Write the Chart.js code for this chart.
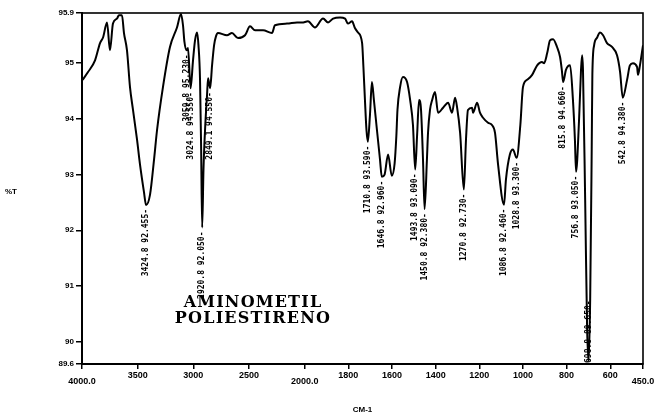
<!DOCTYPE html>
<html>
<head>
<meta charset="utf-8">
<script src="https://cdn.jsdelivr.net/npm/chart.js@4.4.1/dist/chart.umd.min.js"></script>
<style>
  html, body { margin: 0; padding: 0; background: #fff; }
  #wrap { width: 654px; height: 417px; }
</style>
</head>
<body>
<div id="wrap"><canvas id="c" width="654" height="417"></canvas></div>
<script>
// IR spectrum, wavenumber (cm-1) against transmittance (%T)
const wavenumbers = [
  3995, 3946, 3883, 3838, 3811, 3775, 3749, 3722, 3686, 3668, 3641, 3623, 3596, 3569, 3542,
  3506, 3479, 3443, 3424.8, 3389, 3353, 3326, 3273, 3210, 3147, 3111, 3093, 3080, 3059.8, 3048,
  3024.8, 3003, 2985, 2967, 2954, 2940, 2930, 2920.8, 2909, 2895, 2877, 2868, 2849.1, 2832, 2814,
  2797, 2779, 2698, 2653, 2599, 2536, 2491, 2446, 2374, 2294, 2267, 2159, 2069, 2024, 1985,
  1953, 1916, 1893, 1870, 1838, 1815, 1802, 1783, 1770, 1756, 1737, 1731, 1724, 1717, 1710.8,
  1701, 1692, 1683, 1669, 1655, 1646.8, 1634, 1618, 1601, 1588, 1580, 1575, 1563, 1550, 1531,
  1517, 1504, 1493.8, 1485, 1476, 1467, 1458, 1450.8, 1440, 1435, 1426, 1416, 1403, 1389, 1366,
  1343, 1325, 1311, 1302, 1288, 1270.8, 1261, 1252, 1233, 1229, 1210, 1197, 1183, 1160, 1142,
  1128, 1114, 1086.8, 1078, 1060, 1046, 1028.8, 1012, 1000, 981, 958, 935, 913, 903, 889,
  876, 862, 844, 830, 822, 815.8, 803, 784, 771, 762, 756.8, 743, 734, 729, 725,
  715, 706, 698.8, 692, 685, 682, 674, 660, 647, 633, 615, 592, 569, 555, 542.8,
  523, 510, 496, 477, 473, 464, 450
];
const transmittance = [
  94.70, 94.84, 95.05, 95.36, 95.46, 95.73, 95.23, 95.71, 95.80, 95.86, 95.86, 95.54, 95.23, 94.57, 94.16,
  93.63, 93.18, 92.68, 92.455, 92.64, 93.27, 93.80, 94.57, 95.29, 95.64, 95.88, 95.68, 95.38, 95.23, 95.27,
  94.55, 95.05, 95.41, 95.55, 95.32, 94.70, 93.45, 92.05, 93.09, 93.80, 94.43, 94.73, 94.55, 94.96, 95.32,
  95.48, 95.54, 95.50, 95.54, 95.45, 95.50, 95.66, 95.59, 95.59, 95.54, 95.68, 95.71, 95.73, 95.73, 95.75,
  95.64, 95.80, 95.73, 95.80, 95.82, 95.80, 95.71, 95.75, 95.63, 95.55, 95.36, 94.93, 94.34, 93.80, 93.59,
  94.07, 94.66, 94.34, 93.80, 93.27, 92.96, 93.00, 93.36, 92.98, 93.20, 93.70, 94.16, 94.57, 94.75, 94.66,
  94.34, 93.89, 93.09, 93.71, 94.34, 94.16, 93.27, 92.38, 93.27, 93.75, 94.16, 94.34, 94.48, 94.11, 94.20,
  94.29, 94.11, 94.38, 94.21, 93.75, 92.73, 93.63, 94.16, 94.20, 94.11, 94.29, 94.11, 94.02, 93.93, 93.89,
  93.75, 93.18, 92.46, 92.91, 93.36, 93.45, 93.30, 93.89, 94.57, 94.70, 94.79, 94.96, 95.02, 95.00, 95.18,
  95.41, 95.43, 95.29, 95.11, 94.88, 94.66, 94.88, 94.96, 94.34, 93.63, 93.05, 93.98, 94.88, 95.14, 94.88,
  92.55, 90.23, 89.65, 90.77, 93.45, 94.80, 95.32, 95.46, 95.55, 95.50, 95.36, 95.29, 95.14, 94.84, 94.38,
  94.70, 94.96, 95.00, 94.93, 94.79, 94.96, 95.32
];

// bands printed by the peak picker
const peakWavenumbers = [3424.8, 3059.8, 3024.8, 2920.8, 2849.1, 1710.8, 1646.8, 1493.8,
  1450.8, 1270.8, 1086.8, 1028.8, 815.8, 756.8, 698.8, 542.8];

const xTickValues = [4000, 3500, 3000, 2500, 2000, 1800, 1600, 1400, 1200, 1000, 800, 600, 450];
const xTickLabels = ['4000.0', '3500', '3000', '2500', '2000.0', '1800', '1600', '1400', '1200', '1000', '800', '600', '450.0'];
const yTickValues = [89.6, 90, 91, 92, 93, 94, 95, 95.9];
const yTickLabels = ['89.6', '90', '91', '92', '93', '94', '95', '95.9'];
const titleLines = ['AMINOMETIL', 'POLIESTIRENO'];
const xTitle = 'CM-1';
const yTitle = '%T';

// chart paper changes scale at 2000 cm-1: the low-wavenumber side is stretched
const SPLIT = 2000, STRETCH = 1.96;
function toPos(w) {
  return w >= SPLIT ? 4000 - w : (4000 - SPLIT) + (SPLIT - w) * STRETCH;
}

const points = wavenumbers.map((w, i) => ({ x: toPos(w), y: transmittance[i] }));

const INK = '#000';

const framePlugin = {
  id: 'frame',
  afterDraw(chart) {
    const { ctx, chartArea: a } = chart;
    ctx.save();
    ctx.strokeStyle = INK;
    ctx.lineWidth = 1.6;
    ctx.strokeRect(a.left, a.top, a.right - a.left, a.bottom - a.top);
    ctx.restore();
  }
};

const peakLabelPlugin = {
  id: 'peakLabels',
  afterDatasetsDraw(chart) {
    const { ctx, chartArea: a, scales } = chart;
    ctx.save();
    ctx.fillStyle = INK;
    ctx.font = 'bold 8px "DejaVu Sans Mono"';
    ctx.textBaseline = 'middle';
    ctx.textAlign = 'right';
    peakWavenumbers.forEach(w => {
      const i = wavenumbers.indexOf(w);
      const t = transmittance[i];
      const text = w.toFixed(1) + ' ' + t.toFixed(3) + '-';
      const px = scales.x.getPixelForValue(toPos(w));
      const py = scales.y.getPixelForValue(t);
      const len = ctx.measureText(text).width;
      let top = py + 4;
      if (top + len > a.bottom - 1) top = a.bottom - 1 - len;
      ctx.save();
      ctx.translate(px, top);
      ctx.rotate(-Math.PI / 2);
      ctx.fillText(text, 0, 0);
      ctx.restore();
    });
    ctx.restore();
  }
};

const annotationPlugin = {
  id: 'annotations',
  afterDraw(chart) {
    const { ctx, chartArea: a } = chart;
    ctx.save();
    ctx.fillStyle = INK;
    ctx.textAlign = 'center';
    ctx.textBaseline = 'alphabetic';
    ctx.font = 'bold 16px "DejaVu Serif"';
    if ('letterSpacing' in ctx) ctx.letterSpacing = '1.2px';
    ctx.fillText(titleLines[0], 253, 307);
    ctx.fillText(titleLines[1], 253, 323);
    if ('letterSpacing' in ctx) ctx.letterSpacing = '0px';
    ctx.font = 'bold 8px "Liberation Sans"';
    ctx.textBaseline = 'middle';
    ctx.fillText(yTitle, 11, (a.top + a.bottom) / 2 + 3);
    ctx.restore();
  }
};

new Chart(document.getElementById('c'), {
  type: 'line',
  data: {
    datasets: [{
      data: points,
      borderColor: INK,
      borderWidth: 2,
      pointRadius: 0,
      fill: false,
      cubicInterpolationMode: 'monotone'
    }]
  },
  options: {
    responsive: false,
    devicePixelRatio: 1,
    animation: false,
    layout: { padding: { top: 13, right: 11, bottom: 0, left: 0 } },
    plugins: { legend: { display: false }, tooltip: { enabled: false } },
    scales: {
      x: {
        type: 'linear',
        position: 'bottom',
        min: toPos(4000),
        max: toPos(450),
        afterBuildTicks(s) { s.ticks = xTickValues.map(w => ({ value: toPos(w) })); },
        afterFit(s) { s.height = 53; s.paddingLeft = 0; s.paddingRight = 0; },
        ticks: {
          autoSkip: false,
          maxRotation: 0,
          color: INK,
          padding: 3,
          font: { family: 'Liberation Sans', weight: 'bold', size: 9, lineHeight: 0.7 },
          callback(v, i) {
            const lbl = xTickLabels[i];
            return lbl.includes('.') ? ['', lbl] : lbl;
          }
        },
        grid: { drawOnChartArea: false, tickLength: 5, color: INK, lineWidth: 1.5 },
        border: { color: INK, width: 2 },
        title: {
          display: true,
          text: xTitle,
          color: INK,
          font: { family: 'Liberation Sans', weight: 'bold', size: 8 },
          padding: { top: 0, bottom: 2 }
        }
      },
      y: {
        type: 'linear',
        min: 89.6,
        max: 95.9,
        afterBuildTicks(s) { s.ticks = yTickValues.map(v => ({ value: v })); },
        afterFit(s) { s.width = 82; s.paddingTop = 0; s.paddingBottom = 0; },
        ticks: {
          color: INK,
          padding: 2,
          font: { family: 'Liberation Sans', weight: 'bold', size: 8 },
          callback(v, i) { return yTickLabels[i]; }
        },
        grid: { drawOnChartArea: false, tickLength: 6, color: INK, lineWidth: 1.5 },
        border: { color: INK, width: 2 }
      }
    }
  },
  plugins: [framePlugin, peakLabelPlugin, annotationPlugin]
});
</script>
</body>
</html>
